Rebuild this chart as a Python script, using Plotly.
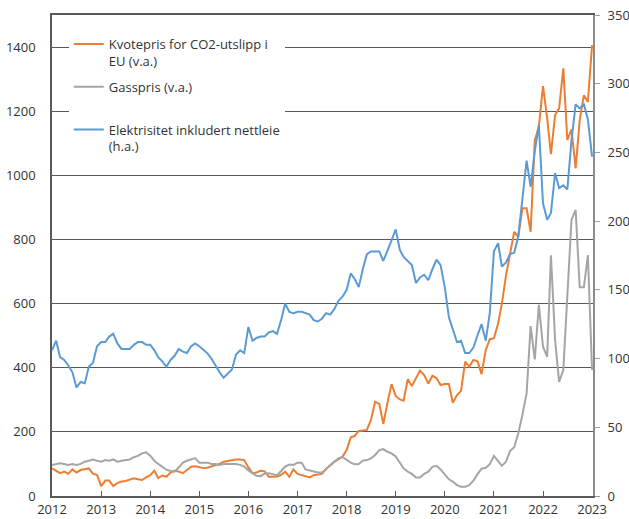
import pandas as pd
import plotly.graph_objects as go

months = pd.date_range("2012-01-01", periods=133, freq="MS")

# Kvotepris for CO2-utslipp i EU (venstre akse)
kvotepris = [86, 79, 71, 76, 69, 83, 73, 81, 83, 86, 69, 66,
             31, 48, 48, 31, 40, 45, 47, 50, 55, 52, 50, 58,
             65, 79, 56, 64, 60, 73, 79, 76, 71, 81, 91, 93,
             90, 87, 88, 92, 96, 100, 107, 110, 112, 114, 114, 112,
             89, 71, 73, 79, 77, 60, 60, 61, 66, 76, 60, 83,
             69, 66, 62, 58, 65, 68, 69, 84, 96, 106, 114, 122,
             143, 183, 187, 203, 204, 206, 237, 294, 287, 225, 291, 349,
             312, 301, 297, 364, 343, 367, 391, 377, 351, 375, 367, 346,
             349, 349, 291, 315, 328, 419, 403, 424, 420, 380, 455, 489,
             492, 538, 600, 689, 751, 824, 808, 897, 897, 824, 1110, 1151,
             1278, 1178, 1066, 1188, 1209, 1334, 1110, 1143, 1022, 1172, 1250, 1229,
             1406]

# Gasspris (venstre akse)
gasspris = [97, 100, 102, 100, 97, 100, 97, 100, 107, 110, 114, 110,
            107, 112, 110, 114, 107, 110, 112, 114, 121, 125, 133, 136,
            126, 110, 100, 90, 82, 78, 76, 89, 104, 110, 114, 118,
            104, 104, 104, 100, 100, 97, 100, 100, 100, 100, 97, 92,
            80, 70, 63, 62, 70, 71, 69, 65, 78, 92, 98, 97,
            104, 104, 83, 79, 76, 73, 73, 83, 97, 107, 117, 122,
            112, 104, 99, 100, 110, 112, 117, 128, 143, 146, 138, 133,
            123, 102, 86, 76, 69, 58, 58, 69, 76, 91, 94, 83,
            66, 52, 45, 34, 29, 29, 34, 48, 68, 85, 88, 99,
            125, 107, 94, 107, 141, 152, 196, 253, 320, 530, 426, 596,
            466, 434, 751, 486, 356, 393, 621, 861, 892, 651, 651, 751,
            393]

# Elektrisitet inkludert nettleie (høyre akse)
elektrisitet = [106, 113, 101, 99, 95, 90, 79, 83, 82, 94, 97, 109,
                112, 112, 116, 118, 111, 107, 107, 107, 110, 112, 112, 110,
                110, 106, 101, 98, 94, 99, 102, 107, 105, 104, 109, 111,
                109, 106, 104, 100, 95, 90, 86, 89, 92, 103, 106, 104,
                123, 113, 115, 116, 116, 119, 120, 118, 128, 140, 134, 133,
                134, 134, 133, 132, 128, 127, 129, 133, 132, 136, 142, 145,
                150, 162, 158, 152, 165, 176, 178, 178, 178, 171, 178, 186,
                194, 179, 174, 171, 168, 155, 159, 161, 157, 165, 172, 168,
                152, 130, 121, 112, 113, 104, 104, 108, 117, 125, 113, 133,
                178, 184, 167, 170, 176, 177, 189, 215, 244, 225, 251, 270,
                213, 201, 206, 235, 224, 226, 223, 259, 285, 282, 285, 274,
                247]

left_ticks = [0, 200, 400, 600, 800, 1000, 1200, 1400]
right_ticks = [0, 50, 100, 150, 200, 250, 300, 350]
year_ticks = [f"{y}-01-01" for y in range(2012, 2024)]
year_labels = [str(y) for y in range(2012, 2024)]

ORANGE = "#ED7D31"
GRAY = "#A5A5A5"
BLUE = "#5B9BD5"
FONT = "Open Sans"

fig = go.Figure()
fig.add_trace(go.Scatter(x=months, y=kvotepris, mode="lines",
                         name="Kvotepris for CO2-utslipp i<br>EU (v.a.)",
                         legendgroup="a",
                         line=dict(color=ORANGE, width=2)))
fig.add_trace(go.Scatter(x=months, y=gasspris, mode="lines",
                         name="Gasspris (v.a.)<br> ",
                         legendgroup="b",
                         line=dict(color=GRAY, width=2)))
fig.add_trace(go.Scatter(x=months, y=elektrisitet, mode="lines",
                         name="Elektrisitet inkludert nettleie<br>(h.a.)",
                         legendgroup="c",
                         line=dict(color=BLUE, width=2), yaxis="y2"))

fig.update_layout(
    width=629, height=519,
    margin=dict(l=52, r=36, t=15, b=23),
    paper_bgcolor="white", plot_bgcolor="white",
    font=dict(family=FONT, size=13, color="#333333"),
    showlegend=True,
    legend=dict(x=0.031, y=0.971, xanchor="left", yanchor="top",
                bgcolor="white", borderwidth=0, valign="top",
                font=dict(family=FONT, size=13, color="#333333"),
                tracegroupgap=6),
    xaxis=dict(type="date", range=["2012-01-01", "2023-01-08"],
               tickvals=year_ticks, ticktext=year_labels,
               ticks="inside", ticklen=5, tickcolor="#595959",
               showgrid=False, showline=True, linecolor="#595959",
               linewidth=1.5, mirror=True, zeroline=False, automargin=False,
               ticklabelstandoff=1, tickfont=dict(size=13)),
    yaxis=dict(range=[0, 1500], tickvals=left_ticks,
               showgrid=True, gridcolor="#595959", gridwidth=1,
               showline=True, linecolor="#595959", linewidth=1.5,
               zeroline=False, ticks="", ticklabelstandoff=12, automargin=False,
               tickfont=dict(size=13)),
    yaxis2=dict(range=[0, 350], tickvals=right_ticks, overlaying="y",
                side="right", showgrid=False, showline=True,
                linecolor="#8C8C8C", linewidth=2, zeroline=False,
                ticks="outside", ticklen=5, tickcolor="#A0A0A0", automargin=False,
                ticklabelstandoff=5, tickfont=dict(size=13)),
)

fig.write_html(
    "out.html",
    config={"displayModeBar": False},
    post_script=(
        "document.body.style.margin='0';"
        "document.body.style.overflow='hidden';"
        "document.documentElement.style.overflow='hidden';"
    ),
)
